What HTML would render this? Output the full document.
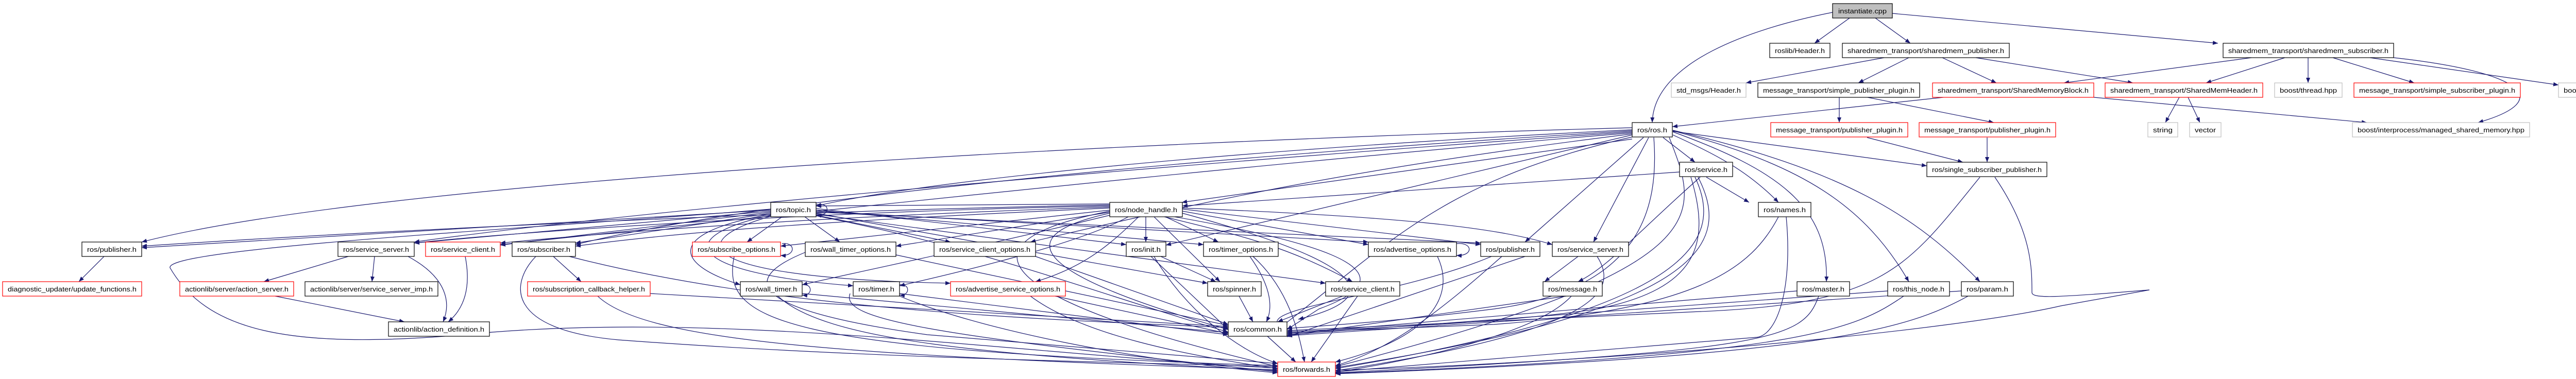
<!DOCTYPE html>
<html><head><meta charset="utf-8"><style>
html,body{margin:0;padding:0;background:#fff;overflow:hidden;width:5087px;height:736px}
svg{display:block}
text{font-family:"Liberation Sans",sans-serif;font-size:13px;fill:#000}
.e{fill:none;stroke:#191970;stroke-width:1.2}
.b{fill:#fff;stroke:#000;stroke-width:1.2}
.r{fill:#fff;stroke:#ff0000;stroke-width:1.2}
.g{fill:#fff;stroke:#bfbfbf;stroke-width:1.2}
</style></head><body>
<svg width="5087" height="736" viewBox="0 0 5087 736" xmlns="http://www.w3.org/2000/svg">
<defs><marker id="a" viewBox="0 0 10 8" refX="10" refY="4" markerWidth="10" markerHeight="8" markerUnits="userSpaceOnUse" orient="auto"><path d="M0,0 L10,4 L0,8 z" fill="#191970"/></marker></defs>
<g class="e" marker-end="url(#a)">
<path d="M3557,24 C3400,55 3210,120 3207,238"/>
<path d="M3590,35 L3522,84"/>
<path d="M3640,35 L3708,84"/>
<path d="M3673,26 L4305,84"/>
<path d="M3657,112 L3389,161"/>
<path d="M3705,112 L3607,161"/>
<path d="M3770,112 L3875,161"/>
<path d="M3835,112 L4140,161"/>
<path d="M4370,112 L4006,161"/>
<path d="M4435,112 L4282,161"/>
<path d="M4480,112 L4480,161"/>
<path d="M4528,112 L4686,161"/>
<path d="M4600,112 L4966,165"/>
<path d="M4646,112 C4900,140 4960,195 4810,238"/>
<path d="M3570,189 L3570,238"/>
<path d="M3625,189 L3870,238"/>
<path d="M3772,189 L3246,246"/>
<path d="M4064,189 L4594,238"/>
<path d="M4230,189 L4203,238"/>
<path d="M4247,189 L4270,238"/>
<path d="M3624,267 L3810,315"/>
<path d="M3857,267 L3857,315"/>
<path d="M3843,344 C3700,520 3660,590 3300,605 C3000,620 2700,635 2498,642"/>
<path d="M3872,344 C3944,450 3944,520 3944,568 C3944,580 3990,578 4172,563 L4000,594 C3800,640 3200,700 2592,719"/>
<path d="M3228,267 L3290,315"/>
<path d="M3247,262 C3330,300 3390,330 3452,393"/>
<path d="M3247,256 C3450,330 3550,400 3545,547"/>
<path d="M3247,254 C3500,320 3620,400 3705,547"/>
<path d="M3247,253 C3580,330 3720,420 3843,547"/>
<path d="M3247,255 L3740,322"/>
<path d="M3200,267 L3093,470"/>
<path d="M3190,267 L2960,470"/>
<path d="M3210,267 C3220,400 3190,560 2900,600 C2700,625 2600,630 2498,638"/>
<path d="M3168,270 L2294,393"/>
<path d="M3168,262 L2263,476"/>
<path d="M3168,248 C2000,280 700,360 275,470"/>
<path d="M3168,252 C2400,290 1800,350 1584,400"/>
<path d="M3168,254 C2400,300 1500,380 1117,475"/>
<path d="M3168,256 C2400,310 1300,400 804,470"/>
<path d="M3168,258 C2400,320 1500,420 971,475"/>
<path d="M3168,260 C2600,330 2300,400 2000,470"/>
<path d="M3168,266 C2800,350 2700,470 2480,640 "/>
<path d="M3240,267 C3300,420 3340,520 2592,712"/>
<path d="M3260,334 L2295,400"/>
<path d="M3312,344 L3395,393"/>
<path d="M3300,344 C3180,450 3120,520 3063,547"/>
<path d="M3282,344 C3320,470 3300,560 3100,600 C2900,630 2600,640 2498,644"/>
<path d="M3290,344 C3350,470 3280,600 2592,716"/>
<path d="M3296,344 C3360,470 3320,600 2592,714"/>
<path d="M3452,421 C3400,520 3300,600 2900,630 L2498,646"/>
<path d="M3467,421 C3480,560 3450,650 3410,655 L2592,722"/>
<path d="M3488,565 L2498,648"/>
<path d="M3530,575 C3500,660 3440,680 2592,724"/>
<path d="M3664,565 L2498,650"/>
<path d="M3695,575 C3600,640 3500,690 2592,725"/>
<path d="M3807,565 L2498,652"/>
<path d="M3820,575 C3700,640 3550,690 2592,726"/>
<path d="M3063,498 L2998,547"/>
<path d="M3100,498 C3140,560 3120,640 2592,720"/>
<path d="M3040,575 L2498,652"/>
<path d="M3050,575 C2990,640 2800,690 2592,723"/>
<path d="M2960,498 L2498,654"/>
<path d="M2915,498 C2800,600 2700,680 2592,710"/>
<path d="M2895,498 C2700,580 2400,600 2498,640"/>
<path d="M2224,421 L2224,470"/>
<path d="M2262,421 L2365,470"/>
<path d="M2240,421 L2368,547"/>
<path d="M2260,421 C2420,460 2500,480 2625,547"/>
<path d="M2295,410 L2656,475"/>
<path d="M2295,406 L2874,475"/>
<path d="M2295,404 C2700,420 2900,440 3013,475"/>
<path d="M2280,421 C2500,460 2780,520 2560,600 L2498,640"/>
<path d="M2295,414 C2500,470 2770,560 2520,620"/>
<path d="M2210,421 C2150,480 2100,520 2010,547"/>
<path d="M2190,421 C2100,470 1900,520 1746,555"/>
<path d="M2154,418 C1900,480 1700,520 1557,553"/>
<path d="M2154,412 L1739,478"/>
<path d="M2154,408 L1515,478"/>
<path d="M2154,404 C1800,420 1400,440 1117,478"/>
<path d="M2154,402 C1600,420 1200,450 971,472"/>
<path d="M2154,400 C1600,410 1000,450 804,472"/>
<path d="M2154,398 C1500,410 700,450 275,478"/>
<path d="M2154,396 L1584,400"/>
<path d="M2154,414 C1900,470 2100,560 2384,640"/>
<path d="M2154,410 C1800,480 2000,600 2480,712"/>
<path d="M1584,398 C1610,390 1615,420 1584,418"/>
<path d="M1496,408 L275,481"/>
<path d="M1496,410 L804,472"/>
<path d="M1496,412 L971,476"/>
<path d="M1496,414 L1117,472"/>
<path d="M1518,421 L1450,470"/>
<path d="M1562,421 L1630,470"/>
<path d="M1584,418 L1845,470"/>
<path d="M1496,416 C1300,450 1300,510 1437,553"/>
<path d="M1496,418 C1300,460 1330,530 1656,555"/>
<path d="M1496,420 C1320,470 1350,540 1845,550"/>
<path d="M1584,405 L2186,475"/>
<path d="M1584,408 L2336,475"/>
<path d="M1584,410 L2656,470"/>
<path d="M1584,412 L2874,472"/>
<path d="M1584,414 L2344,550"/>
<path d="M1584,416 L2573,550"/>
<path d="M1584,419 C1900,480 2100,560 2384,645"/>
<path d="M1496,406 C1100,440 320,480 330,520 C400,640 550,680 900,650 C1400,600 2000,690 2480,715"/>
<path d="M202,498 L153,547"/>
<path d="M676,498 L512,547"/>
<path d="M727,498 L722,547"/>
<path d="M792,498 C870,540 875,590 860,625"/>
<path d="M903,498 C915,560 900,600 870,625"/>
<path d="M534,575 L785,625"/>
<path d="M1074,498 L1128,547"/>
<path d="M1040,498 C990,550 980,640 1200,660 C1600,690 2000,700 2480,712"/>
<path d="M1105,498 C1500,600 2000,620 2384,636"/>
<path d="M1262,570 L2384,634"/>
<path d="M1160,575 C1250,660 1600,690 2480,718"/>
<path d="M1518,473 C1545,470 1545,498 1515,496"/>
<path d="M1425,498 C1400,620 1500,680 2480,710"/>
<path d="M1739,495 L2384,632"/>
<path d="M1563,490 C1440,540 1440,600 1800,650 L2480,706"/>
<path d="M2010,498 L2384,630"/>
<path d="M1557,553 C1578,550 1578,575 1557,573"/>
<path d="M1557,570 L2384,646"/>
<path d="M1510,575 C1600,660 1900,690 2480,720"/>
<path d="M1746,553 C1767,550 1767,575 1746,573"/>
<path d="M1746,570 L2384,650"/>
<path d="M1746,575 C1900,640 2200,700 2480,724"/>
<path d="M1650,570 C1630,620 1800,650 2480,722"/>
<path d="M2048,575 L2384,648"/>
<path d="M2000,575 C2100,650 2300,690 2480,716"/>
<path d="M2234,498 L2384,640"/>
<path d="M2240,498 C2300,600 2400,680 2480,706"/>
<path d="M2253,498 L2360,547"/>
<path d="M2426,498 C2470,560 2470,600 2458,625"/>
<path d="M2432,498 C2500,560 2520,640 2532,703"/>
<path d="M2405,575 L2432,625"/>
<path d="M2606,575 L2480,625"/>
<path d="M2635,575 L2545,703"/>
<path d="M2790,498 C2820,560 2800,650 2592,703"/>
<path d="M2827,473 C2860,470 2860,498 2827,496"/>
<path d="M2460,653 L2515,703"/>
</g>
<g>
<rect class="b" x="3557" y="7" width="116" height="28" style="fill:#bfbfbf"/><text x="3615" y="26" text-anchor="middle" textLength="94" lengthAdjust="spacingAndGlyphs">instantiate.cpp</text>
<rect class="b" x="3435" y="84" width="117" height="28"/><text x="3493.5" y="103" text-anchor="middle" textLength="97" lengthAdjust="spacingAndGlyphs">roslib/Header.h</text>
<rect class="b" x="3576" y="84" width="324" height="28"/><text x="3738" y="103" text-anchor="middle" textLength="304" lengthAdjust="spacingAndGlyphs">sharedmem_transport/sharedmem_publisher.h</text>
<rect class="b" x="4315" y="84" width="331" height="28"/><text x="4480.5" y="103" text-anchor="middle" textLength="311" lengthAdjust="spacingAndGlyphs">sharedmem_transport/sharedmem_subscriber.h</text>
<rect class="g" x="3244" y="161" width="145" height="28"/><text x="3316.5" y="180" text-anchor="middle" textLength="125" lengthAdjust="spacingAndGlyphs">std_msgs/Header.h</text>
<rect class="b" x="3412" y="161" width="314" height="28"/><text x="3569" y="180" text-anchor="middle" textLength="294" lengthAdjust="spacingAndGlyphs">message_transport/simple_publisher_plugin.h</text>
<rect class="r" x="3751" y="161" width="313" height="28"/><text x="3907.5" y="180" text-anchor="middle" textLength="293" lengthAdjust="spacingAndGlyphs">sharedmem_transport/SharedMemoryBlock.h</text>
<rect class="r" x="4086" y="161" width="306" height="28"/><text x="4239" y="180" text-anchor="middle" textLength="286" lengthAdjust="spacingAndGlyphs">sharedmem_transport/SharedMemHeader.h</text>
<rect class="g" x="4415" y="161" width="131" height="28"/><text x="4480.5" y="180" text-anchor="middle" textLength="111" lengthAdjust="spacingAndGlyphs">boost/thread.hpp</text>
<rect class="r" x="4569" y="161" width="323" height="28"/><text x="4730.5" y="180" text-anchor="middle" textLength="303" lengthAdjust="spacingAndGlyphs">message_transport/simple_subscriber_plugin.h</text>
<rect class="g" x="4966" y="161" width="117" height="28"/><text x="5024.5" y="180" text-anchor="middle" textLength="97" lengthAdjust="spacingAndGlyphs">boost/bind.hpp</text>
<rect class="b" x="3168" y="238" width="78" height="28"/><text x="3207" y="257" text-anchor="middle" textLength="58" lengthAdjust="spacingAndGlyphs">ros/ros.h</text>
<rect class="r" x="3437" y="238" width="266" height="28"/><text x="3570" y="257" text-anchor="middle" textLength="246" lengthAdjust="spacingAndGlyphs">message_transport/publisher_plugin.h</text>
<rect class="r" x="3725" y="238" width="265" height="28"/><text x="3857.5" y="257" text-anchor="middle" textLength="245" lengthAdjust="spacingAndGlyphs">message_transport/publisher_plugin.h</text>
<rect class="g" x="4169" y="238" width="58" height="28"/><text x="4198" y="257" text-anchor="middle" textLength="38" lengthAdjust="spacingAndGlyphs">string</text>
<rect class="g" x="4250" y="238" width="61" height="28"/><text x="4280.5" y="257" text-anchor="middle" textLength="41" lengthAdjust="spacingAndGlyphs">vector</text>
<rect class="g" x="4566" y="238" width="344" height="28"/><text x="4738" y="257" text-anchor="middle" textLength="324" lengthAdjust="spacingAndGlyphs">boost/interprocess/managed_shared_memory.hpp</text>
<rect class="b" x="3260" y="315" width="103" height="28"/><text x="3311.5" y="334" text-anchor="middle" textLength="83" lengthAdjust="spacingAndGlyphs">ros/service.h</text>
<rect class="b" x="3740" y="315" width="233" height="28"/><text x="3856.5" y="334" text-anchor="middle" textLength="213" lengthAdjust="spacingAndGlyphs">ros/single_subscriber_publisher.h</text>
<rect class="b" x="1496" y="393" width="88" height="28"/><text x="1540" y="412" text-anchor="middle" textLength="68" lengthAdjust="spacingAndGlyphs">ros/topic.h</text>
<rect class="b" x="2154" y="393" width="141" height="28"/><text x="2224.5" y="412" text-anchor="middle" textLength="121" lengthAdjust="spacingAndGlyphs">ros/node_handle.h</text>
<rect class="b" x="3413" y="393" width="102" height="28"/><text x="3464" y="412" text-anchor="middle" textLength="82" lengthAdjust="spacingAndGlyphs">ros/names.h</text>
<rect class="b" x="159" y="470" width="116" height="28"/><text x="217" y="489" text-anchor="middle" textLength="96" lengthAdjust="spacingAndGlyphs">ros/publisher.h</text>
<rect class="b" x="656" y="470" width="148" height="28"/><text x="730" y="489" text-anchor="middle" textLength="128" lengthAdjust="spacingAndGlyphs">ros/service_server.h</text>
<rect class="r" x="826" y="470" width="145" height="28"/><text x="898.5" y="489" text-anchor="middle" textLength="125" lengthAdjust="spacingAndGlyphs">ros/service_client.h</text>
<rect class="b" x="994" y="470" width="123" height="28"/><text x="1055.5" y="489" text-anchor="middle" textLength="103" lengthAdjust="spacingAndGlyphs">ros/subscriber.h</text>
<rect class="r" x="1344" y="470" width="171" height="28"/><text x="1429.5" y="489" text-anchor="middle" textLength="151" lengthAdjust="spacingAndGlyphs">ros/subscribe_options.h</text>
<rect class="b" x="1563" y="470" width="176" height="28"/><text x="1651" y="489" text-anchor="middle" textLength="156" lengthAdjust="spacingAndGlyphs">ros/wall_timer_options.h</text>
<rect class="b" x="1813" y="470" width="197" height="28"/><text x="1911.5" y="489" text-anchor="middle" textLength="177" lengthAdjust="spacingAndGlyphs">ros/service_client_options.h</text>
<rect class="b" x="2186" y="470" width="77" height="28"/><text x="2224.5" y="489" text-anchor="middle" textLength="57" lengthAdjust="spacingAndGlyphs">ros/init.h</text>
<rect class="b" x="2336" y="470" width="145" height="28"/><text x="2408.5" y="489" text-anchor="middle" textLength="125" lengthAdjust="spacingAndGlyphs">ros/timer_options.h</text>
<rect class="b" x="2656" y="470" width="171" height="28"/><text x="2741.5" y="489" text-anchor="middle" textLength="151" lengthAdjust="spacingAndGlyphs">ros/advertise_options.h</text>
<rect class="b" x="2874" y="470" width="115" height="28"/><text x="2931.5" y="489" text-anchor="middle" textLength="95" lengthAdjust="spacingAndGlyphs">ros/publisher.h</text>
<rect class="b" x="3013" y="470" width="148" height="28"/><text x="3087" y="489" text-anchor="middle" textLength="128" lengthAdjust="spacingAndGlyphs">ros/service_server.h</text>
<rect class="r" x="5" y="547" width="270" height="28"/><text x="140" y="566" text-anchor="middle" textLength="250" lengthAdjust="spacingAndGlyphs">diagnostic_updater/update_functions.h</text>
<rect class="r" x="349" y="547" width="221" height="28"/><text x="459.5" y="566" text-anchor="middle" textLength="201" lengthAdjust="spacingAndGlyphs">actionlib/server/action_server.h</text>
<rect class="b" x="592" y="547" width="258" height="28"/><text x="721" y="566" text-anchor="middle" textLength="238" lengthAdjust="spacingAndGlyphs">actionlib/server/service_server_imp.h</text>
<rect class="r" x="1024" y="547" width="238" height="28"/><text x="1143" y="566" text-anchor="middle" textLength="218" lengthAdjust="spacingAndGlyphs">ros/subscription_callback_helper.h</text>
<rect class="b" x="1437" y="547" width="120" height="28"/><text x="1497" y="566" text-anchor="middle" textLength="100" lengthAdjust="spacingAndGlyphs">ros/wall_timer.h</text>
<rect class="b" x="1656" y="547" width="90" height="28"/><text x="1701" y="566" text-anchor="middle" textLength="70" lengthAdjust="spacingAndGlyphs">ros/timer.h</text>
<rect class="r" x="1845" y="547" width="223" height="28"/><text x="1956.5" y="566" text-anchor="middle" textLength="203" lengthAdjust="spacingAndGlyphs">ros/advertise_service_options.h</text>
<rect class="b" x="2344" y="547" width="104" height="28"/><text x="2396" y="566" text-anchor="middle" textLength="84" lengthAdjust="spacingAndGlyphs">ros/spinner.h</text>
<rect class="b" x="2573" y="547" width="144" height="28"/><text x="2645" y="566" text-anchor="middle" textLength="124" lengthAdjust="spacingAndGlyphs">ros/service_client.h</text>
<rect class="b" x="2995" y="547" width="115" height="28"/><text x="3052.5" y="566" text-anchor="middle" textLength="95" lengthAdjust="spacingAndGlyphs">ros/message.h</text>
<rect class="b" x="3488" y="547" width="102" height="28"/><text x="3539" y="566" text-anchor="middle" textLength="82" lengthAdjust="spacingAndGlyphs">ros/master.h</text>
<rect class="b" x="3664" y="547" width="120" height="28"/><text x="3724" y="566" text-anchor="middle" textLength="100" lengthAdjust="spacingAndGlyphs">ros/this_node.h</text>
<rect class="b" x="3807" y="547" width="101" height="28"/><text x="3857.5" y="566" text-anchor="middle" textLength="81" lengthAdjust="spacingAndGlyphs">ros/param.h</text>
<rect class="b" x="754" y="625" width="196" height="28"/><text x="852" y="644" text-anchor="middle" textLength="176" lengthAdjust="spacingAndGlyphs">actionlib/action_definition.h</text>
<rect class="b" x="2384" y="625" width="114" height="28"/><text x="2441" y="644" text-anchor="middle" textLength="94" lengthAdjust="spacingAndGlyphs">ros/common.h</text>
<rect class="r" x="2480" y="703" width="112" height="28"/><text x="2536" y="722" text-anchor="middle" textLength="92" lengthAdjust="spacingAndGlyphs">ros/forwards.h</text>
</g>
</svg>
</body></html>
